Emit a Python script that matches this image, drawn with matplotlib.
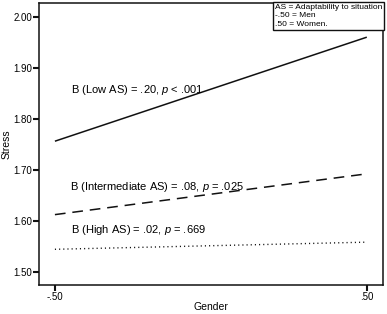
import matplotlib
matplotlib.use("Agg")
import matplotlib.pyplot as plt

plt.rcParams["font.family"] = ["Liberation Sans", "DejaVu Sans"]
plt.rcParams["mathtext.fontset"] = "custom"
plt.rcParams["mathtext.it"] = "Liberation Sans:italic"
plt.rcParams["mathtext.rm"] = "Liberation Sans"

# ── data ──────────────────────────────────────────
gender = [-0.5, 0.5]
low_as = [1.756, 1.960]
mid_as = [1.612, 1.692]
high_as = [1.544, 1.558]
yticks = [1.50, 1.60, 1.70, 1.80, 1.90, 2.00]
xticks = [-0.5, 0.5]
xticklabels = ["-.50", ".50"]

fig = plt.figure(figsize=(3.87, 3.14), dpi=100)
ax = fig.add_axes([0.1008, 0.0924, 0.8889, 0.898])

ax.plot(gender, low_as, color="#111", lw=1.1, solid_capstyle="butt")
ax.plot(gender, mid_as, color="#111", lw=1.1, dashes=(7, 4.5))
ax.plot(gender, high_as, color="#111", lw=1.0, dashes=(0.8, 2.2))

ax.text(-0.447, 1.856, r"B (Low AS) = .20, $\it{p}$ < .001", fontsize=8, va="center")
ax.text(-0.452, 1.666, r"B (Intermediate AS) = .08, $\it{p}$ = .025", fontsize=8, va="center")
ax.text(-0.447, 1.582, r"B (High AS) = .02, $\it{p}$ = .669", fontsize=8, va="center")

ax.text(0.9975, 0.997, "AS = Adaptability to situation\n-.50 = Men\n.50 = Women.",
        transform=ax.transAxes, ha="right", va="top", multialignment="left",
        fontsize=6, linespacing=1.3,
        bbox=dict(boxstyle="square,pad=0.25", fc="white", ec="#111", lw=1.0))

ax.set_xlim(-0.551, 0.552)
ax.set_ylim(1.474, 2.027)
ax.set_xticks(xticks)
ax.set_xticklabels(xticklabels)
ax.set_yticks(yticks)
ax.set_yticklabels([f"{v:.2f}" for v in yticks])
ax.tick_params(direction="out", length=4, width=1.5, labelsize=7, pad=1, color="#111")
for sp in ax.spines.values():
    sp.set_linewidth(1.1)
    sp.set_color("#111")

ax.set_xlabel("Gender", fontsize=7.5, labelpad=0)
ax.set_ylabel("Stress", fontsize=7.5, labelpad=1)

fig.savefig("out.png", dpi=100, facecolor="white")
